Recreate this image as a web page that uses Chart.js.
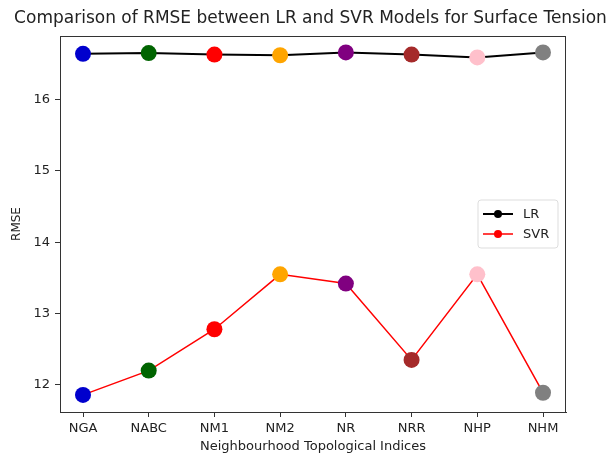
<!DOCTYPE html>
<html>
<head>
<meta charset="utf-8">
<script src="https://cdn.jsdelivr.net/npm/chart.js@4/dist/chart.umd.min.js"></script>
<style>
  html, body { margin: 0; padding: 0; background: #fff; }
  canvas { display: block; }
</style>
</head>
<body>
<canvas id="chart" width="609" height="454"></canvas>
<script>
const categories = ['NGA', 'NABC', 'NM1', 'NM2', 'NR', 'NRR', 'NHP', 'NHM'];
const lrRmse = [16.64, 16.65, 16.63, 16.62, 16.66, 16.63, 16.59, 16.66];
const svrRmse = [11.86, 12.20, 12.78, 13.55, 13.42, 12.35, 13.55, 11.89];
const pointColors = ['mediumblue', 'darkgreen', 'red', 'orange', 'purple', 'brown', 'pink', 'gray'];
const yTicks = [12, 13, 14, 15, 16];

const FONT = 'DejaVu Sans';
const INK = '#222';

const toPoints = vals => vals.map((v, i) => ({ x: i, y: v }));

// frame around the plot plus a matplotlib-style legend inside on the right
const framePlugin = {
  id: 'frame',
  afterDraw(chart) {
    const { ctx, chartArea: a } = chart;
    ctx.save();
    ctx.strokeStyle = '#333';
    ctx.lineWidth = 1;
    ctx.strokeRect(a.left + 0.5, a.top + 0.5, a.right - a.left - 1, a.bottom - a.top);

    const sets = chart.data.datasets;
    const w = 80, rowH = 20, h = sets.length * rowH + 8;
    const x0 = a.right - 8 - w;
    const y0 = (a.top + a.bottom) / 2 - h / 2;
    ctx.fillStyle = 'rgba(255,255,255,0.8)';
    ctx.strokeStyle = '#ddd';
    ctx.beginPath();
    ctx.roundRect(x0, y0, w, h, 3);
    ctx.fill();
    ctx.stroke();

    ctx.font = `13px "${FONT}"`;
    ctx.textBaseline = 'middle';
    sets.forEach((ds, i) => {
      const cy = y0 + 4 + rowH * i + rowH / 2;
      ctx.strokeStyle = ds.borderColor;
      ctx.lineWidth = ds.borderWidth;
      ctx.beginPath();
      ctx.moveTo(x0 + 5, cy);
      ctx.lineTo(x0 + 35, cy);
      ctx.stroke();
      ctx.fillStyle = ds.borderColor;
      ctx.beginPath();
      ctx.arc(x0 + 20, cy, 4, 0, Math.PI * 2);
      ctx.fill();
      ctx.fillStyle = INK;
      ctx.fillText(ds.label, x0 + 45, cy + 1);
    });
    ctx.restore();
  }
};

new Chart(document.getElementById('chart'), {
  type: 'line',
  data: {
    datasets: [
      {
        label: 'LR',
        data: toPoints(lrRmse),
        borderColor: 'black',
        borderWidth: 2,
        pointRadius: 8,
        pointBorderWidth: 0,
        pointBackgroundColor: pointColors,
      },
      {
        label: 'SVR',
        data: toPoints(svrRmse),
        borderColor: 'red',
        borderWidth: 1.5,
        pointRadius: 8,
        pointBorderWidth: 0,
        pointBackgroundColor: pointColors,
      },
    ],
  },
  options: {
    responsive: false,
    animation: false,
    layout: { padding: { left: 12, right: 0, top: 0, bottom: 0 } },
    plugins: {
      legend: { display: false },
      tooltip: { enabled: false },
      title: {
        display: true,
        text: 'Comparison of RMSE between LR and SVR Models for Surface Tension',
        color: INK,
        font: { family: FONT, size: 17, weight: 'normal' },
        padding: { top: 8, bottom: 7.6 },
      },
    },
    scales: {
      x: {
        type: 'linear',
        min: -0.35,
        max: categories.length - 1 + 0.35,
        afterBuildTicks: s => { s.ticks = categories.map((_, i) => ({ value: i })); },
        afterFit: s => { s.height = 42; },
        ticks: {
          color: INK,
          font: { family: FONT, size: 13 },
          padding: 4,
          callback: v => categories[v],
        },
        grid: { display: true, drawOnChartArea: false, tickLength: 5, color: '#333' },
        border: { display: true, color: '#333' },
        title: {
          display: true,
          text: 'Neighbourhood Topological Indices',
          color: INK,
          font: { family: FONT, size: 13 },
          padding: { top: 0, bottom: 0 },
        },
      },
      y: {
        min: 11.62,
        max: 16.89,
        afterBuildTicks: s => { s.ticks = yTicks.map(v => ({ value: v })); },
        afterFit: s => { s.width = 48; },
        ticks: {
          color: INK,
          font: { family: FONT, size: 13 },
          padding: 5,
        },
        grid: { display: true, drawOnChartArea: false, tickLength: 5, color: '#333' },
        border: { display: true, color: '#333' },
        title: {
          display: true,
          text: 'RMSE',
          color: INK,
          font: { family: FONT, size: 12 },
          padding: { top: -2, bottom: -2 },
        },
      },
      // empty right-hand gutter so the plot ends where the frame should
      gutter: {
        type: 'linear',
        position: 'right',
        afterFit: s => { s.width = 43; },
        ticks: { display: false },
        grid: { display: false },
        border: { display: false },
      },
    },
  },
  plugins: [framePlugin],
});
</script>
</body>
</html>
